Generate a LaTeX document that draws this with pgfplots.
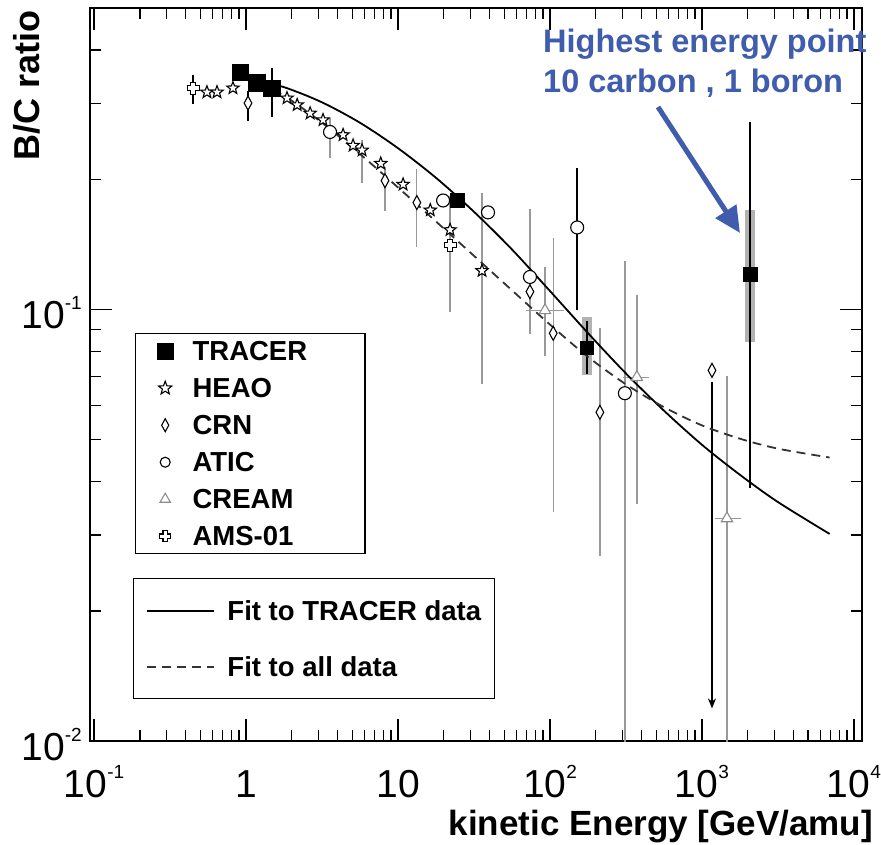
\documentclass[border=0pt]{standalone}
\usepackage{fontspec}
\setmainfont{Liberation Sans}
\usepackage{pgfplots}
\pgfplotsset{compat=1.18}
\usetikzlibrary{arrows.meta,plotmarks}
\definecolor{annblue}{RGB}{64,92,172}
\newcommand\sups[1]{\raisebox{19pt}{\fontsize{19}{19}\selectfont #1}}
\pgfdeclareplotmark{ostar}{%
 \pgfpathmoveto{\pgfqpointpolar{90}{\pgfplotmarksize}}%
 \pgfpathlineto{\pgfqpointpolar{126}{0.42\pgfplotmarksize}}%
 \pgfpathlineto{\pgfqpointpolar{162}{\pgfplotmarksize}}%
 \pgfpathlineto{\pgfqpointpolar{198}{0.42\pgfplotmarksize}}%
 \pgfpathlineto{\pgfqpointpolar{234}{\pgfplotmarksize}}%
 \pgfpathlineto{\pgfqpointpolar{270}{0.42\pgfplotmarksize}}%
 \pgfpathlineto{\pgfqpointpolar{306}{\pgfplotmarksize}}%
 \pgfpathlineto{\pgfqpointpolar{342}{0.42\pgfplotmarksize}}%
 \pgfpathlineto{\pgfqpointpolar{18}{\pgfplotmarksize}}%
 \pgfpathlineto{\pgfqpointpolar{54}{0.42\pgfplotmarksize}}%
 \pgfpathclose\pgfusepathqfillstroke}
\pgfdeclareplotmark{tdiamond}{%
 \pgfpathmoveto{\pgfqpoint{0pt}{\pgfplotmarksize}}%
 \pgfpathlineto{\pgfqpoint{0.55\pgfplotmarksize}{0pt}}%
 \pgfpathlineto{\pgfqpoint{0pt}{-\pgfplotmarksize}}%
 \pgfpathlineto{\pgfqpoint{-0.55\pgfplotmarksize}{0pt}}%
 \pgfpathclose\pgfusepathqfillstroke}
\pgfdeclareplotmark{amscross}{%
 \pgfpathmoveto{\pgfqpoint{-0.4\pgfplotmarksize}{\pgfplotmarksize}}%
 \pgfpathlineto{\pgfqpoint{0.4\pgfplotmarksize}{\pgfplotmarksize}}%
 \pgfpathlineto{\pgfqpoint{0.4\pgfplotmarksize}{0.4\pgfplotmarksize}}%
 \pgfpathlineto{\pgfqpoint{\pgfplotmarksize}{0.4\pgfplotmarksize}}%
 \pgfpathlineto{\pgfqpoint{\pgfplotmarksize}{-0.4\pgfplotmarksize}}%
 \pgfpathlineto{\pgfqpoint{0.4\pgfplotmarksize}{-0.4\pgfplotmarksize}}%
 \pgfpathlineto{\pgfqpoint{0.4\pgfplotmarksize}{-\pgfplotmarksize}}%
 \pgfpathlineto{\pgfqpoint{-0.4\pgfplotmarksize}{-\pgfplotmarksize}}%
 \pgfpathlineto{\pgfqpoint{-0.4\pgfplotmarksize}{-0.4\pgfplotmarksize}}%
 \pgfpathlineto{\pgfqpoint{-\pgfplotmarksize}{-0.4\pgfplotmarksize}}%
 \pgfpathlineto{\pgfqpoint{-\pgfplotmarksize}{0.4\pgfplotmarksize}}%
 \pgfpathlineto{\pgfqpoint{-0.4\pgfplotmarksize}{0.4\pgfplotmarksize}}%
 \pgfpathclose\pgfusepathqfillstroke}
\begin{document}
\begin{tikzpicture}
\begin{axis}[
 at={(0pt,0pt)}, anchor=south west,
 scale only axis, width=772pt, height=733pt,
 xmode=log, ymode=log,
 xmin=0.094, xmax=11300, ymin=0.01, ymax=0.5,
 axis line style={line width=1.6pt},
 tick align=inside,
 major tick length=22pt, minor tick length=11pt,
 every tick/.style={black, line width=1.4pt},
 xtick={0.1,1,10,100,1000,10000},
 xticklabels={10\sups{-1},1,10,10\sups{2},10\sups{3},10\sups{4}},
 minor xtick={0.2,0.3,0.4,0.5,0.6,0.7,0.8,0.9,2,3,4,5,6,7,8,9,20,30,40,50,60,70,80,90,200,300,400,500,600,700,800,900,2000,3000,4000,5000,6000,7000,8000,9000},
 ytick={0.01,0.1},
 yticklabels={10\sups{-2},10\sups{-1}},
 minor ytick={0.02,0.03,0.04,0.05,0.06,0.07,0.08,0.09,0.2,0.3,0.4},
 xticklabel style={font=\fontsize{39}{39}\selectfont, anchor=base, yshift=-56pt, inner sep=0pt},
 yticklabel style={font=\fontsize{39}{39}\selectfont, anchor=base east, xshift=-8pt, yshift=-19pt, inner sep=0pt},
 legend cell align=left,
 legend style={at={(0.0583,0.5566)}, anchor=north west, draw=black, line width=1.4pt, fill=white,
   inner xsep=21.5pt, inner ysep=5pt, row sep=12pt, column sep=19.4pt,
   font=\fontsize{27.5}{30}\selectfont\bfseries,
   nodes={inner sep=0pt, text height=22pt, text depth=3pt}},
]
% systematic bands (TRACER)
\addplot[forget plot, only marks, mark=none, error bars/.cd, y dir=both, y explicit, error mark=none,
  error bar style={line width=10pt, black!30}]
  table[x=x, y=y, y error plus=ep, y error minus=em]{
x y ep em
175 0.0818 0.0142 0.0113
2070 0.121 0.049 0.0371
};
% gray error bars
\addplot[forget plot, only marks, mark=none, error bars/.cd, y dir=both, y explicit,
  error bar style={line width=1.3pt, black!40}, error mark options={black!40, line width=1.3pt, mark size=4pt}]
  table[x=x, y=y, y error plus=ep, y error minus=em]{
x y ep em
35.7 0.123 0.059 0.0545
5.8 0.234 0.008 0.033
22.0 0.141 0.038 0.0403
8.21 0.199 0.010 0.026
13.3 0.177 0.030 0.034
105 0.0881 0.055 0.0535
213 0.0578 0.0308 0.0304
3.57 0.258 0.014 0.028
73.8 0.119 0.048 0.0295
311 0.064 0.063 0.058
};
% CREAM bars
\addplot[forget plot, only marks, mark=none, error bars/.cd, y dir=both, y explicit, x dir=both, x explicit,
  error bar style={line width=1.3pt, black!40}, error mark options={black!40, line width=1.3pt, mark size=4pt}]
  table[x=x, y=y, y error plus=ep, y error minus=em, x error plus=xp, x error minus=xm]{
x y ep em xp xm
92.7 0.0996 0.0234 0.020 23.3 18.9
373 0.0697 0.0363 0.0336 47 52
1460 0.0328 0.0357 0.0268 250 170
};
% black error bars
\addplot[forget plot, only marks, mark=none, error bars/.cd, y dir=both, y explicit,
  error bar style={line width=1.4pt, black}, error mark options={black, line width=1.4pt, mark size=4pt}]
  table[x=x, y=y, y error plus=ep, y error minus=em]{
x y ep em
0.448 0.326 0.017 0.020
1.03 0.301 0.014 0.022
151 0.155 0.053 0.053
1.48 0.326 0.029 0.041
175 0.0818 0.0102 0.0095
2070 0.121 0.146 0.0815
};
% CRN upper limit
\addplot[forget plot, black, line width=1.4pt, -{Stealth[length=10pt,width=8pt]}] coordinates {(1164,0.068) (1164,0.0119)};
% fits
\addplot[forget plot, black, line width=1.8pt, smooth] coordinates {
(1,0.3451) (1.778,0.3277) (3.162,0.3022) (5.623,0.2710) (10,0.2366) (17.78,0.2020) (31.62,0.1685) (56.23,0.1378) (100,0.1104) (177.8,0.0882) (316.2,0.0711) (562.3,0.0583) (1000,0.0486) (1778,0.0414) (3162,0.0358) (6918,0.0302)};
\addplot[forget plot, black!80, line width=1.8pt, dash pattern=on 9pt off 6pt, smooth] coordinates {
(1,0.3451) (1.778,0.3130) (3.162,0.2710) (5.623,0.2293) (10,0.1919) (17.78,0.1600) (31.62,0.1332) (56.23,0.1108) (100,0.0923) (177.8,0.0777) (316.2,0.0671) (562.3,0.0594) (1000,0.0539) (1778,0.0502) (3162,0.0476) (6918,0.0454)};
% HEAO
\addplot[forget plot, only marks, mark=ostar, mark size=6.5pt, mark options={draw=black, fill=white, line width=1.1pt}] coordinates {
(0.553,0.319) (0.644,0.319) (0.82,0.326) (1.86,0.309) (2.17,0.298) (2.64,0.285) (3.21,0.275) (4.35,0.254) (5.06,0.240) (5.8,0.234) (7.7,0.218) (10.8,0.195) (16.3,0.170) (22.0,0.153) (35.7,0.123)};
% CRN
\addplot[forget plot, only marks, mark=tdiamond, mark size=7pt, mark options={draw=black, fill=white, line width=1.1pt}] coordinates {
(1.03,0.301) (8.21,0.199) (13.3,0.177) (73.8,0.110) (105,0.0881) (213,0.0578) (1164,0.0723)};
% ATIC
\addplot[forget plot, only marks, mark=*, mark size=6.5pt, mark options={draw=black, fill=white, line width=1.1pt}] coordinates {
(3.57,0.258) (19.8,0.179) (39.1,0.168) (73.8,0.119) (151,0.155) (311,0.064)};
% CREAM
\addplot[forget plot, only marks, mark=triangle*, mark size=6.5pt, mark options={draw=black!45, fill=white, line width=1.1pt}] coordinates {
(92.7,0.0996) (373,0.0697) (1460,0.0328)};
% AMS-01
\addplot[forget plot, only marks, mark=amscross, mark size=6pt, mark options={draw=black, fill=white, line width=1.1pt}] coordinates {
(0.448,0.326) (22.0,0.141)};
% TRACER
\addplot[forget plot, only marks, mark=square*, mark size=8.3pt, mark options={draw=black, fill=black}] coordinates {
(0.914,0.355) (1.18,0.336) (1.48,0.326)};
\addplot[forget plot, only marks, mark=square*, mark size=7pt, mark options={draw=black, fill=black}] coordinates {
(24.4,0.179) (2070,0.121)};
\addplot[forget plot, only marks, mark=square*, mark size=6.5pt, mark options={draw=black, fill=black}] coordinates {
(175,0.0818)};
% legend 1
\addlegendimage{only marks, mark=square*, mark size=8pt, mark options={draw=black, fill=black, line width=1pt}}
\addlegendentry{\makebox[151pt][l]{TRACER}}
\addlegendimage{only marks, mark=ostar, mark size=7pt, mark options={draw=black, fill=white, line width=1.1pt}}
\addlegendentry{\makebox[151pt][l]{HEAO}}
\addlegendimage{only marks, mark=tdiamond, mark size=6.5pt, mark options={draw=black, fill=white, line width=1.1pt}}
\addlegendentry{\makebox[151pt][l]{CRN}}
\addlegendimage{only marks, mark=*, mark size=5pt, mark options={draw=black, fill=white, line width=1.1pt}}
\addlegendentry{\makebox[151pt][l]{ATIC}}
\addlegendimage{only marks, mark=triangle*, mark size=6pt, mark options={draw=black!45, fill=white, line width=1.1pt}}
\addlegendentry{\makebox[151pt][l]{CREAM}}
\addlegendimage{only marks, mark=amscross, mark size=5.5pt, mark options={draw=black, fill=white, line width=1.3pt}}
\addlegendentry{\makebox[151pt][l]{AMS-01}}
\end{axis}
\begin{axis}[
 at={(0pt,0pt)}, anchor=south west,
 scale only axis, width=772pt, height=733pt,
 hide axis, xmin=0, xmax=1, ymin=0, ymax=1,
 legend cell align=left,
 legend style={at={(0.0557,0.2224)}, anchor=north west, draw=black, line width=1.4pt, fill=white,
   inner xsep=12pt, inner ysep=19.5pt, row sep=31pt, column sep=13pt,
   font=\fontsize{27.5}{30}\selectfont\bfseries,
   nodes={inner sep=0pt, text height=22pt, text depth=3pt}},
 legend image code/.code={\draw[#1] (0pt,0pt) -- (67pt,0pt);},
]
\addlegendimage{black, line width=1.8pt}
\addlegendentry{\makebox[255pt][l]{Fit to TRACER data}}
\addlegendimage{black!80, line width=1.8pt, dash pattern=on 9pt off 6pt}
\addlegendentry{\makebox[255pt][l]{Fit to all data}}
\end{axis}
\node[anchor=base west, inner sep=0pt, text=annblue, font=\fontsize{32.5}{32.5}\selectfont\bfseries] at (453pt,688pt) {Highest energy point};
\node[anchor=base west, inner sep=0pt, text=annblue, font=\fontsize{32.5}{32.5}\selectfont\bfseries] at (453pt,648pt) {10 carbon , 1 boron};
\draw[annblue, line width=5pt, -{Triangle[length=26pt,width=24pt]}] (568pt,634pt) -- (650pt,508pt);
\node[rotate=90, anchor=base east, inner sep=0pt, font=\fontsize{36}{36}\selectfont\bfseries] at (-50pt,731pt) {B/C ratio};
\node[anchor=base east, inner sep=0pt, font=\fontsize{35}{35}\selectfont\bfseries] at (783pt,-95pt) {kinetic Energy [GeV/amu]};
\pgfresetboundingbox
\path (-90pt,-104pt) rectangle (791pt,741pt);
\end{tikzpicture}
\end{document}
